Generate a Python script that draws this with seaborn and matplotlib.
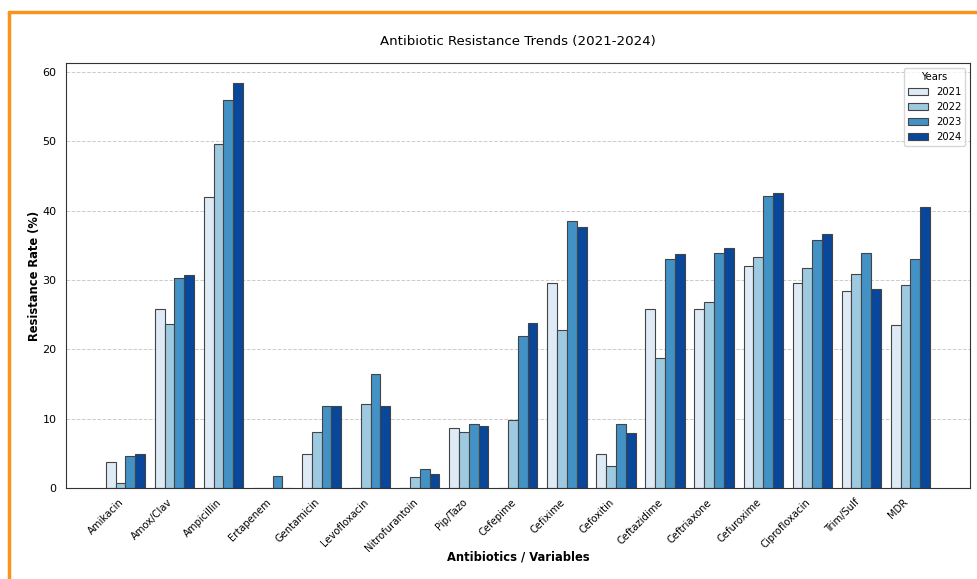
import pandas as pd
import seaborn as sns
import matplotlib.pyplot as plt
from matplotlib.lines import Line2D

# data
antibiotics = ['Amikacin', 'Amox/Clav', 'Ampicillin', 'Ertapenem', 'Gentamicin',
               'Levofloxacin', 'Nitrofurantoin', 'Pip/Tazo', 'Cefepime', 'Cefixime',
               'Cefoxitin', 'Ceftazidime', 'Ceftriaxone', 'Cefuroxime',
               'Ciprofloxacin', 'Trim/Sulf', 'MDR']
years = ['2021', '2022', '2023', '2024']
rate_2021 = [3.7, 25.9, 42.0, 0.0, 4.9, 0.0, 0.0, 8.6, 0.0, 29.6, 4.9, 25.9, 25.9, 32.1, 29.6, 28.4, 23.5]
rate_2022 = [0.7, 23.6, 49.6, 0.0, 8.1, 12.2, 1.6, 8.1, 9.8, 22.8, 3.2, 18.7, 26.8, 33.3, 31.8, 30.9, 29.3]
rate_2023 = [4.6, 30.3, 56.0, 1.8, 11.9, 16.5, 2.7, 9.2, 22.0, 38.5, 9.2, 33.0, 33.9, 42.2, 35.8, 33.9, 33.0]
rate_2024 = [4.9, 30.7, 58.4, 0.0, 11.9, 11.9, 2.0, 8.9, 23.8, 37.6, 7.9, 33.7, 34.6, 42.6, 36.6, 28.7, 40.6]

wide = pd.DataFrame({'Antibiotic': antibiotics, '2021': rate_2021, '2022': rate_2022,
                     '2023': rate_2023, '2024': rate_2024})
df = wide.melt(id_vars='Antibiotic', var_name='Year', value_name='Rate')

colors = ['#deebf7', '#9ecae1', '#4292c6', '#08479a']

sns.set_style('white')
plt.rcParams['font.family'] = ['DejaVu Sans']
plt.rcParams['text.color'] = 'black'
plt.rcParams['axes.labelcolor'] = 'black'
plt.rcParams['xtick.color'] = 'black'
plt.rcParams['ytick.color'] = 'black'

fig, ax = plt.subplots(figsize=(9.78, 5.79), dpi=100)
sns.barplot(data=df, x='Antibiotic', y='Rate', hue='Year', hue_order=years,
            palette=colors, saturation=1, edgecolor='#444444', linewidth=0.8, ax=ax)

ax.set_xlim(-1.22, 17.22)
ax.set_ylim(0, 61.3)
ax.grid(axis='y', linestyle='--', color='#cccccc', linewidth=0.7)
ax.set_axisbelow(True)
for s in ax.spines.values():
    s.set_color('#333333')
ax.tick_params(axis='y', labelsize=8, length=3, color='#333333')
ax.tick_params(axis='x', labelsize=7.2, length=3, color='#333333')
plt.setp(ax.get_xticklabels(), rotation=45, ha='right')

ax.set_title('Antibiotic Resistance Trends (2021-2024)', fontsize=9.6, pad=13)
ax.set_xlabel('Antibiotics / Variables', fontsize=8.3, fontweight='bold', labelpad=-2)
ax.set_ylabel('Resistance Rate (%)', fontsize=8.3, fontweight='bold', labelpad=1)
ax.legend(title='Years', fontsize=7.2, title_fontsize=7.2, loc='upper right')

fig.subplots_adjust(left=0.067, right=0.992, top=0.891, bottom=0.157)

# orange frame from the screenshot
fig.add_artist(Line2D([0.009, 1.0], [0.979, 0.979], color='#f7941d', lw=2.5, transform=fig.transFigure))
fig.add_artist(Line2D([0.009, 0.009], [0.0, 0.979], color='#f7941d', lw=2.5, transform=fig.transFigure))

fig.savefig('out.png', dpi=100)
